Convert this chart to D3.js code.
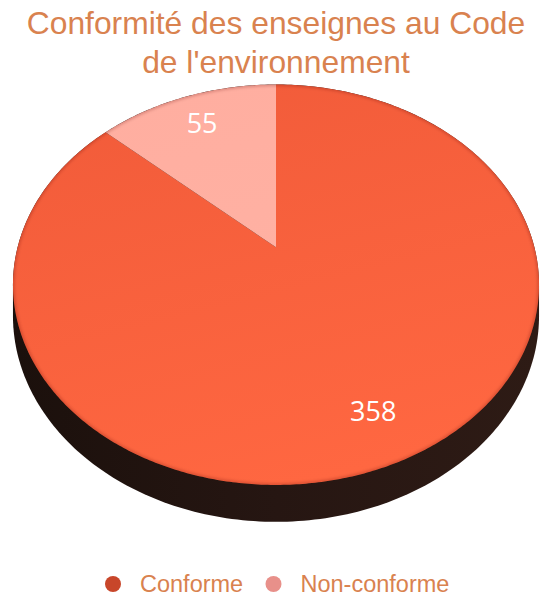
<!DOCTYPE html>
<html>
<head>
<meta charset="utf-8">
<script src="https://cdn.jsdelivr.net/npm/d3@7/dist/d3.min.js"></script>
<style>
  html, body { margin: 0; padding: 0; background: #ffffff; }
  svg { display: block; }
</style>
</head>
<body>
<svg id="chart" width="542" height="596"></svg>
<script>
// Data
const categories = ["Conforme", "Non-conforme"];
const values = [358, 55];
const titleLines = ["Conformité des enseignes au Code", "de l'environnement"];

// Colours
const sliceTop = ["#f25c3a", "#ffaea0"];
const sliceBottom = ["#ff6741", "#ffb4a6"];
const legendColors = ["#c8462a", "#e8908a"];
const textColor = "#d9824f";

const svg = d3.select("#chart");
const defs = svg.append("defs");

// Perspective disc: centre of the disc projects to (x0, y0);
// k controls how much the far edge shrinks relative to the near edge.
const x0 = 276, y0 = 247.3;
const ax = 258.4, by = 193.2, k = 0.187;
const depth = 30;

function proj(angle, r, h) {
  const u = r * Math.sin(angle);
  const v = -r * Math.cos(angle);
  const w = 1 - k * v;
  return [x0 + ax * u / w, y0 + (by * v + (h || 0)) / w];
}

const pie = d3.pie().sort(null).value(d => d)(values);

// Gradients
const sideGrad = defs.append("linearGradient").attr("id", "side")
  .attr("x1", "0").attr("x2", "1").attr("y1", "0").attr("y2", "0");
sideGrad.append("stop").attr("offset", "0").attr("stop-color", "#1b100c");
sideGrad.append("stop").attr("offset", "0.5").attr("stop-color", "#261612");
sideGrad.append("stop").attr("offset", "1").attr("stop-color", "#2e1b15");

categories.forEach((c, i) => {
  const g = defs.append("linearGradient").attr("id", "top" + i)
    .attr("gradientUnits", "userSpaceOnUse")
    .attr("x1", 200).attr("y1", 85).attr("x2", 300).attr("y2", 485);
  g.append("stop").attr("offset", "0").attr("stop-color", sliceTop[i]);
  g.append("stop").attr("offset", "1").attr("stop-color", sliceBottom[i]);
});

const rimBlur = defs.append("filter").attr("id", "rimblur")
  .attr("x", "-10%").attr("y", "-10%").attr("width", "120%").attr("height", "120%");
rimBlur.append("feGaussianBlur").attr("stdDeviation", 1.6);

// Side of the disc: hull of the top rim and the lowered bottom rim
const N = 360;
const rimPts = [];
for (let i = 0; i < N; i++) {
  const a = (i / N) * 2 * Math.PI;
  rimPts.push(proj(a, 1, 0));
  rimPts.push(proj(a, 1, depth));
}
const hull = d3.polygonHull(rimPts);
svg.append("path")
  .attr("d", "M" + hull.map(p => p.join(",")).join("L") + "Z")
  .attr("fill", "url(#side)");

// Top faces of the slices
const line = d3.line();
function slicePath(d) {
  const pts = [proj(0, 0)];
  const steps = Math.max(2, Math.ceil((d.endAngle - d.startAngle) / 0.01));
  for (let i = 0; i <= steps; i++) {
    const a = d.startAngle + (d.endAngle - d.startAngle) * i / steps;
    pts.push(proj(a, 1));
  }
  return line(pts) + "Z";
}

svg.append("g").selectAll("path")
  .data(pie)
  .join("path")
  .attr("d", slicePath)
  .attr("fill", (d, i) => `url(#top${i})`);

// Soft shading along the rim of the top face
const topRim = [];
for (let i = 0; i <= N; i++) topRim.push(proj((i / N) * 2 * Math.PI, 1));
const clip = defs.append("clipPath").attr("id", "topclip");
clip.append("path").attr("d", line(topRim) + "Z");
svg.append("path")
  .attr("d", line(topRim) + "Z")
  .attr("fill", "none")
  .attr("stroke", "rgba(90,20,0,0.25)")
  .attr("stroke-width", 3)
  .attr("filter", "url(#rimblur)")
  .attr("clip-path", "url(#topclip)");

// Value labels
svg.append("g").selectAll("text")
  .data(pie)
  .join("text")
  .attr("x", d => proj((d.startAngle + d.endAngle) / 2, 0.8)[0])
  .attr("y", d => proj((d.startAngle + d.endAngle) / 2, 0.8)[1])
  .attr("dy", "0.36em")
  .attr("text-anchor", "middle")
  .attr("font-family", "'Open Sans', 'Noto Sans', sans-serif")
  .attr("font-size", 27)
  .attr("fill", "#ffffff")
  .text(d => d.data);

// Title
svg.append("g").selectAll("text")
  .data(titleLines)
  .join("text")
  .attr("x", 276)
  .attr("y", (d, i) => 34 + i * 38.5)
  .attr("text-anchor", "middle")
  .attr("font-family", "'Liberation Sans', Arial, sans-serif")
  .attr("font-size", 31.8)
  .attr("fill", textColor)
  .text(d => d);

// Legend
const legendX = [113, 273.5];
const legend = svg.append("g").selectAll("g")
  .data(categories)
  .join("g")
  .attr("transform", (d, i) => `translate(${legendX[i]},584)`);
legend.append("circle").attr("r", 8).attr("fill", (d, i) => legendColors[i]);
legend.append("text")
  .attr("x", 27)
  .attr("y", 8)
  .attr("font-family", "'Liberation Sans', Arial, sans-serif")
  .attr("font-size", 23.5)
  .attr("fill", textColor)
  .text(d => d);
</script>
</body>
</html>
